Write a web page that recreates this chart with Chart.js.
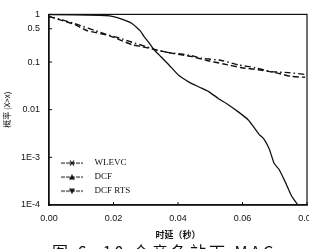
<!DOCTYPE html>
<html>
<head>
<meta charset="utf-8">
<script src="https://cdn.jsdelivr.net/npm/chart.js@4.4.1/dist/chart.umd.min.js"></script>
<style>
    html, body { margin: 0; padding: 0; background: #fff; overflow: hidden; }
    #wrap { position: relative; width: 309px; height: 249px; }
    #chart { position: absolute; left: 0; top: 0; }
    #caption {
        position: absolute; left: 52px; top: 239px; white-space: nowrap;
        font-family: "Noto Sans CJK SC", sans-serif; font-size: 16px; letter-spacing: 3px; color: #111;
    }
</style>
</head>
<body>
<div id="wrap">
    <canvas id="chart" width="309" height="249"></canvas>
    <div id="caption">图 6&nbsp;&nbsp;10 个竞争站下 MAC</div>
</div>
<script>
// delay (s) and P(X > x)
const wlevcDelay = [0, 0.0157, 0.0188, 0.0212, 0.0234, 0.0255, 0.0271, 0.0283, 0.0295, 0.0311, 0.0326, 0.0342, 0.0372,
    0.0403, 0.0434, 0.0465, 0.0495, 0.0526, 0.0557, 0.0588, 0.0618, 0.0633, 0.0652, 0.0665, 0.0683, 0.0698, 0.0714,
    0.0735, 0.0751, 0.0763, 0.0772];
const wlevcProb = [0.99, 0.96, 0.93, 0.86, 0.76, 0.66, 0.54, 0.45, 0.34, 0.25, 0.18, 0.14, 0.087,
    0.052, 0.038, 0.030, 0.024, 0.017, 0.0126, 0.0089, 0.0061, 0.0045, 0.0030, 0.0025, 0.0015, 0.00075, 0.00055,
    0.00028, 0.00016, 0.00012, 0.0001];

const dcfDelay = [0, 0.0034, 0.0074, 0.0105, 0.0142, 0.0178, 0.0218, 0.0258, 0.0302, 0.0332, 0.0372, 0.0434, 0.0474,
    0.0535, 0.0588, 0.064, 0.0689, 0.0742, 0.0794];
const dcfProb = [0.9, 0.79, 0.66, 0.56, 0.46, 0.38, 0.32, 0.26, 0.21, 0.18, 0.158, 0.14, 0.12,
    0.108, 0.087, 0.076, 0.063, 0.06, 0.055];

const rtsDelay = [0, 0.0034, 0.0080, 0.0117, 0.0188, 0.0258, 0.0289, 0.0332, 0.0388, 0.0443, 0.0489,
    0.0542, 0.0597, 0.0649, 0.0702, 0.0751, 0.0794];
const rtsProb = [0.9, 0.77, 0.61, 0.46, 0.355, 0.23, 0.21, 0.18, 0.15, 0.13, 0.108,
    0.091, 0.076, 0.069, 0.06, 0.05, 0.048];

const seriesNames = ['WLEVC', 'DCF', 'DCF RTS'];
const xTickVals = [0, 0.02, 0.04, 0.06, 0.08];
const yTickVals = [0.0001, 0.001, 0.01, 0.1, 0.5, 1];
const yTickLabels = ['1E-4', '1E-3', '0.01', '0.1', '0.5', '1'];

function toPoints(xs, ys){
    return xs.map((x, i) => ({x: x, y: ys[i]}));
}

// little "—*—" legend samples
function legendSample(marker, dash){
    const c = document.createElement('canvas');
    c.width = 22;
    c.height = 8;
    const g = c.getContext('2d');
    g.strokeStyle = '#111';
    g.fillStyle = '#111';
    g.lineWidth = 1.2;
    g.setLineDash(dash);
    g.beginPath();
    g.moveTo(0, 4);
    g.lineTo(22, 4);
    g.stroke();
    g.setLineDash([]);
    g.beginPath();
    if (marker === 'star') {
        g.moveTo(9, 1.5); g.lineTo(13, 6.5);
        g.moveTo(13, 1.5); g.lineTo(9, 6.5);
        g.moveTo(8.5, 4); g.lineTo(13.5, 4);
        g.stroke();
    } else if (marker === 'up') {
        g.moveTo(11, 1); g.lineTo(14, 6.5); g.lineTo(8, 6.5); g.closePath();
        g.fill();
    } else {
        g.moveTo(11, 7); g.lineTo(14, 1.5); g.lineTo(8, 1.5); g.closePath();
        g.fill();
    }
    return c;
}
const samples = [legendSample('star', [4, 1]), legendSample('up', [4, 1]), legendSample('down', [4, 1])];

const framePlugin = {
    id: 'frame',
    afterLayout(chart){
        // push the legend block down towards the bottom-left corner
        const lg = chart.legend;
        if (lg) {
            lg.top += 10;
            lg.bottom += 10;
        }
    },
    afterDraw(chart){
        const a = chart.chartArea;
        const ctx = chart.ctx;
        ctx.save();
        ctx.strokeStyle = '#111';
        ctx.lineWidth = 1.2;
        ctx.strokeRect(a.left, a.top, a.right - a.left, a.bottom - a.top);
        ctx.lineWidth = 1;
        for (const v of yTickVals) {
            const y = chart.scales.y.getPixelForValue(v);
            ctx.beginPath();
            ctx.moveTo(a.left, y);
            ctx.lineTo(a.left + 3, y);
            ctx.stroke();
        }
        for (const v of xTickVals) {
            const x = chart.scales.x.getPixelForValue(v);
            ctx.beginPath();
            ctx.moveTo(x, a.bottom);
            ctx.lineTo(x, a.bottom - 3);
            ctx.stroke();
        }
        ctx.restore();
    }
};

const tickFont = {family: '"Liberation Sans", Arial, sans-serif', size: 9};

new Chart(document.getElementById('chart'), {
    type: 'line',
    data: {
        datasets: [{
            label: seriesNames[0],
            data: toPoints(wlevcDelay, wlevcProb),
            borderColor: '#111',
            borderWidth: 1.3,
            pointRadius: 0,
            tension: 0.2
        }, {
            label: seriesNames[1],
            data: toPoints(dcfDelay, dcfProb),
            borderColor: '#111',
            borderWidth: 1.4,
            borderDash: [6, 3, 1.5, 3],
            pointRadius: 0,
            tension: 0.2
        }, {
            label: seriesNames[2],
            data: toPoints(rtsDelay, rtsProb),
            borderColor: '#111',
            borderWidth: 1.4,
            borderDash: [6, 3],
            pointRadius: 0,
            tension: 0.2
        }]
    },
    options: {
        responsive: false,
        animation: false,
        layout: {autoPadding: false, padding: {top: 11, right: 2, left: 0, bottom: 0}},
        plugins: {
            legend: {
                position: 'chartArea',
                align: 'end',
                labels: {
                    usePointStyle: true,
                    pointStyleWidth: 36,
                    padding: 5,
                    color: '#111',
                    font: {family: '"Liberation Serif", "Times New Roman", serif', size: 9},
                    generateLabels(chart){
                        const items = Chart.defaults.plugins.legend.labels.generateLabels(chart);
                        items.forEach((it, i) => { it.pointStyle = samples[i]; });
                        return items;
                    }
                }
            },
            tooltip: {enabled: false}
        },
        scales: {
            x: {
                type: 'linear',
                min: 0,
                max: 0.08,
                afterBuildTicks: (s) => { s.ticks = xTickVals.map(v => ({value: v})); },
                afterFit: (s) => { s.height = 44; s.paddingRight = 0; s.paddingLeft = 0; },
                grid: {display: false, drawTicks: false},
                border: {display: true, color: '#111', width: 1.6},
                ticks: {
                    padding: 8,
                    color: '#111',
                    font: tickFont,
                    maxRotation: 0,
                    callback: (v) => Number(v).toFixed(2)
                },
                title: {
                    display: true,
                    text: '时延（秒）',
                    color: '#111',
                    font: {family: '"Noto Sans CJK SC", sans-serif', size: 9, weight: 'bold'},
                    padding: {top: 3, bottom: 9}
                }
            },
            y: {
                type: 'logarithmic',
                min: 0.0001,
                max: 1,
                afterBuildTicks: (s) => { s.ticks = yTickVals.map(v => ({value: v})); },
                afterFit: (s) => { s.width = 49; },
                grid: {display: false, drawTicks: false},
                border: {display: true, color: '#111', width: 1.4},
                ticks: {
                    padding: 9,
                    color: '#111',
                    font: tickFont,
                    autoSkip: false,
                    callback: (v) => {
                        const i = yTickVals.indexOf(v);
                        return i >= 0 ? yTickLabels[i] : '';
                    }
                },
                title: {
                    display: true,
                    text: '概率 (X>x)',
                    color: '#111',
                    font: {family: '"Noto Sans CJK SC", sans-serif', size: 8},
                    padding: {top: 2, bottom: 0}
                }
            }
        }
    },
    plugins: [framePlugin]
});
</script>
</body>
</html>
